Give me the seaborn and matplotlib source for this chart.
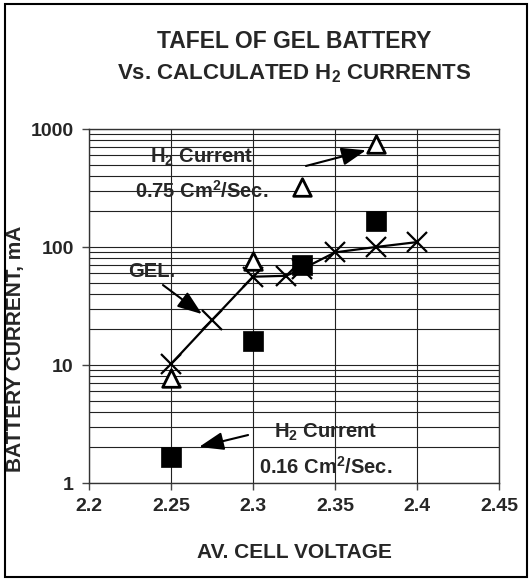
import numpy as np
import pandas as pd
import seaborn as sns
import matplotlib.pyplot as plt
from matplotlib.patches import Rectangle
from matplotlib.ticker import FixedLocator, LogLocator, NullFormatter

# values
gel_v = [2.25, 2.275, 2.30, 2.32, 2.33, 2.35, 2.375, 2.40]
gel_i = [10.2, 24, 56, 57, 65, 90, 100, 110]

h2_075_v = [2.25, 2.30, 2.33, 2.375]
h2_075_i = [7.7, 76, 320, 750]

h2_016_v = [2.25, 2.30, 2.33, 2.375]
h2_016_i = [1.66, 16, 70, 165]

x_ticks = [2.2, 2.25, 2.3, 2.35, 2.4, 2.45]
x_tick_labels = ['2.2', '2.25', '2.3', '2.35', '2.4', '2.45']
y_ticks = [1, 10, 100, 1000]
y_tick_labels = ['1', '10', '100', '1000']

sns.set_style('white')
plt.rcParams['font.family'] = ['Liberation Sans', 'DejaVu Sans']
plt.rcParams['font.weight'] = 'bold'
plt.rcParams['mathtext.fontset'] = 'custom'
plt.rcParams['mathtext.rm'] = 'Liberation Sans:bold'
plt.rcParams['mathtext.it'] = 'Liberation Sans:bold'
plt.rcParams['mathtext.bf'] = 'Liberation Sans:bold'
plt.rcParams['mathtext.default'] = 'rm'

gel = pd.DataFrame({'v': gel_v, 'i': gel_i})
h075 = pd.DataFrame({'v': h2_075_v, 'i': h2_075_i})
h016 = pd.DataFrame({'v': h2_016_v, 'i': h2_016_i})

fig = plt.figure(figsize=(5.31, 5.8), dpi=100)
ax = fig.add_axes([89 / 531, 1 - 483 / 580, 410 / 531, 354 / 580])

sns.lineplot(data=gel, x='v', y='i', ax=ax, color='black', linewidth=1.6,
             marker='x', markersize=15, markeredgewidth=1.6,
             markeredgecolor='black', zorder=3)
sns.scatterplot(data=h075, x='v', y='i', ax=ax, marker='^', s=160,
                facecolor='white', edgecolor='black', linewidth=2, zorder=4)
sns.scatterplot(data=h016, x='v', y='i', ax=ax, marker='s', s=215,
                color='black', edgecolor='black', linewidth=0.5, zorder=5)

ax.set_yscale('log')
ax.set_xlim(2.2, 2.45)
ax.set_ylim(1, 1000)
ax.xaxis.set_major_locator(FixedLocator(x_ticks))
ax.set_xticklabels(x_tick_labels)
ax.yaxis.set_major_locator(FixedLocator(y_ticks))
ax.set_yticklabels(y_tick_labels)
ax.yaxis.set_minor_locator(LogLocator(base=10, subs=np.arange(2, 10)))
ax.yaxis.set_minor_formatter(NullFormatter())

ax.grid(True, which='major', axis='x', color='#222222', linewidth=0.8)
ax.grid(True, which='both', axis='y', color='#222222', linewidth=0.8)
ax.set_axisbelow(True)
ax.tick_params(axis='both', which='major', direction='out', length=5,
               width=1, color='#444444', labelsize=14, pad=6, left=True, bottom=True)
ax.tick_params(axis='y', which='minor', length=0)
for s in ax.spines.values():
    s.set_color('#333333')
    s.set_linewidth(1)

ax.set_xlabel('AV. CELL VOLTAGE', fontsize=15, fontweight='bold', labelpad=20)
ax.set_ylabel('BATTERY CURRENT, mA', fontsize=15, fontweight='bold')
ax.yaxis.set_label_coords((25 - 89) / 410, (483 - 349) / 354)

fig.text(294 / 531, 1 - 42 / 580, 'TAFEL OF GEL BATTERY', ha='center', va='center',
         fontsize=16.5, fontweight='bold')
fig.text(294 / 531, 1 - 74 / 580, r'Vs. CALCULATED H$_2$ CURRENTS', ha='center',
         va='center', fontsize=16, fontweight='bold')

arrow = dict(arrowstyle='-|>,head_length=1.5,head_width=0.55', color='black',
             linewidth=1.5, shrinkA=0, shrinkB=0)
ax.text(2.2689, 579, r'H$_2$ Current', ha='center', va='center', fontsize=14.5, zorder=6)
ax.text(2.2689, 298, r'0.75 Cm$^2$/Sec.', ha='center', va='center', fontsize=14.5, zorder=6)
ax.annotate('', xy=(2.3689, 660), xytext=(2.3323, 486), arrowprops=arrow, zorder=6)

ax.text(2.2384, 61.4, 'GEL.', ha='center', va='center', fontsize=14.5, zorder=6)
ax.annotate('', xy=(2.2689, 27.0), xytext=(2.2451, 47.6), arrowprops=arrow, zorder=6)

ax.text(2.3445, 2.71, r'H$_2$ Current', ha='center', va='center', fontsize=14.5, zorder=6)
ax.text(2.3445, 1.37, r'0.16 Cm$^2$/Sec.', ha='center', va='center', fontsize=14.5, zorder=6)
ax.annotate('', xy=(2.2671, 2.02), xytext=(2.297, 2.55), arrowprops=arrow, zorder=6)

fig.patches.append(Rectangle((5 / 531, 3 / 580), 522 / 531, 573 / 580,
                             transform=fig.transFigure, fill=False,
                             edgecolor='black', linewidth=1.5))

fig.savefig('out.png', dpi=100)
